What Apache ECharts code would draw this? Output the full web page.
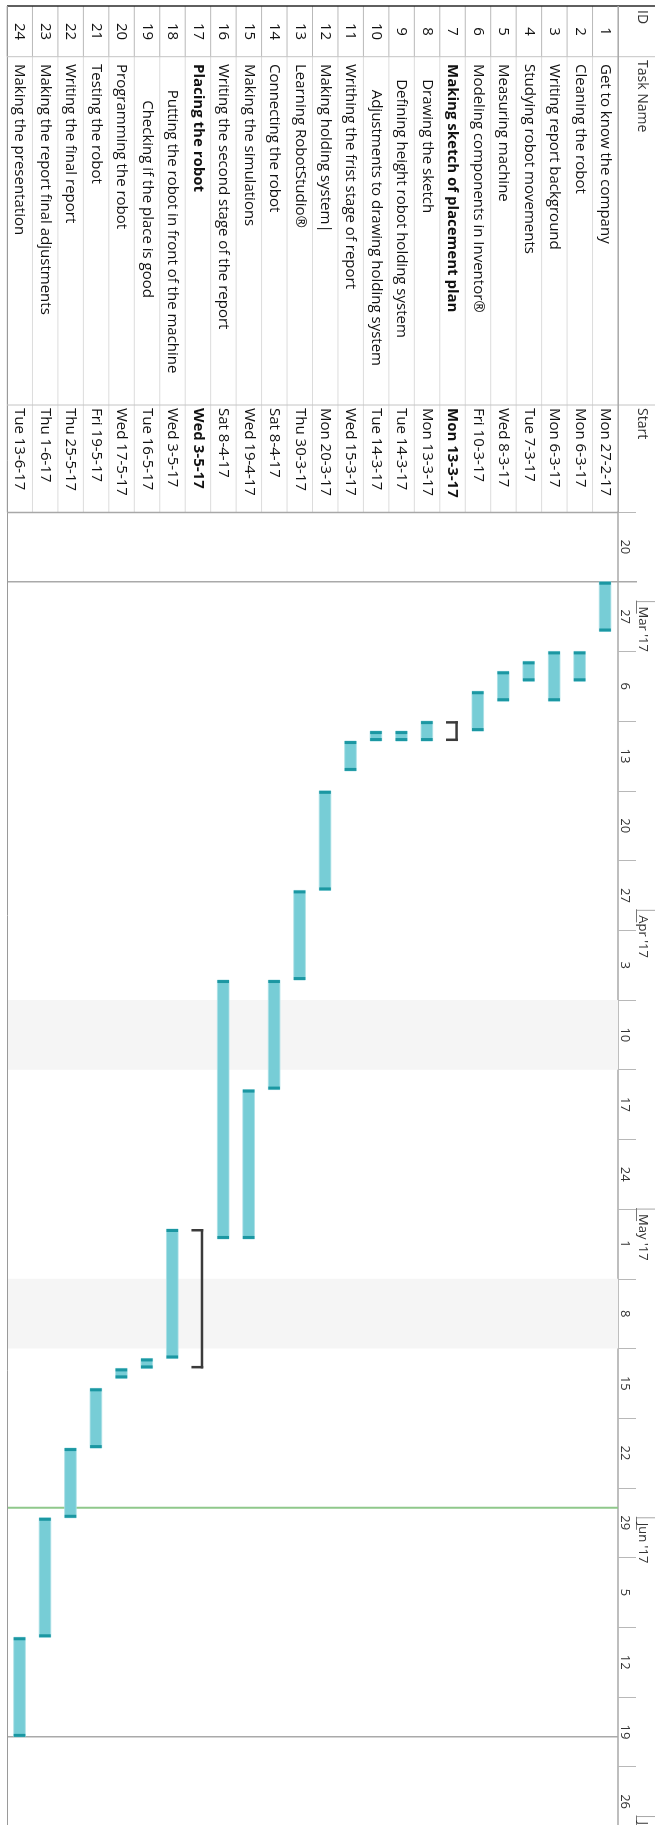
<!DOCTYPE html>
<html>
<head>
<meta charset="utf-8">
<script src="https://cdn.jsdelivr.net/npm/echarts@6/dist/echarts.min.js"></script>
<style>
  html, body { margin: 0; padding: 0; background: #fff; }
  #main { width: 655px; height: 1825px; }
</style>
</head>
<body>
<div id="main"></div>
<script>
// tasks (rows of the table, task 1 on the right because the sheet is turned)
var ids = ["1","2","3","4","5","6","7","8","9","10","11","12","13","14","15","16","17","18","19","20","21","22","23","24"];
var taskNames = [
  "Get to know the company",
  "Cleaning the robot",
  "Writing report background",
  "Studying robot movements",
  "Measuring machine",
  "Modeling components in Inventor®",
  "Making sketch of placement plan",
  "Drawing the sketch",
  "Defining height robot holding system",
  "Adjustments to drawing holding system",
  "Writhing the frist stage of report",
  "Making holding system|",
  "Learning RobotStudio®",
  "Connecting the robot",
  "Making the simulations",
  "Writing the second stage of the report",
  "Placing the robot",
  "Putting the robot in front of the machine",
  "Checking if the place is good",
  "Programming the robot",
  "Testing the robot",
  "Writing the final report",
  "Making the report final adjustments",
  "Making the presentation"
];
var startLabels = [
  "Mon 27-2-17", "Mon 6-3-17", "Mon 6-3-17", "Tue 7-3-17", "Wed 8-3-17", "Fri 10-3-17",
  "Mon 13-3-17", "Mon 13-3-17", "Tue 14-3-17", "Tue 14-3-17", "Wed 15-3-17", "Mon 20-3-17",
  "Thu 30-3-17", "Sat 8-4-17", "Wed 19-4-17", "Sat 8-4-17", "Wed 3-5-17", "Wed 3-5-17",
  "Tue 16-5-17", "Wed 17-5-17", "Fri 19-5-17", "Thu 25-5-17", "Thu 1-6-17", "Tue 13-6-17"
];
var outlineLevel = [0,0,0,0,0,0,0,1,1,2,0,0,0,0,0,0,0,2,3,0,0,0,0,0];
var isSummary   = [0,0,0,0,0,0,1,0,0,0,0,0,0,0,0,0,1,0,0,0,0,0,0,0];

// bar extents, first and last day (inclusive)
var barStart = [
  "2017-02-27","2017-03-06","2017-03-06","2017-03-07","2017-03-08","2017-03-10",
  "2017-03-13","2017-03-13","2017-03-14","2017-03-14","2017-03-15","2017-03-20",
  "2017-03-30","2017-04-08","2017-04-19","2017-04-08","2017-05-03","2017-05-03",
  "2017-05-16","2017-05-17","2017-05-19","2017-05-25","2017-06-01","2017-06-13"
];
var barFinish = [
  "2017-03-03","2017-03-08","2017-03-10","2017-03-08","2017-03-10","2017-03-13",
  "2017-03-14","2017-03-14","2017-03-14","2017-03-14","2017-03-17","2017-03-29",
  "2017-04-07","2017-04-18","2017-05-03","2017-05-03","2017-05-16","2017-05-15",
  "2017-05-16","2017-05-17","2017-05-24","2017-05-31","2017-06-12","2017-06-22"
];

// timescale
var weekStarts = [
  "2017-02-20","2017-02-27","2017-03-06","2017-03-13","2017-03-20","2017-03-27",
  "2017-04-03","2017-04-10","2017-04-17","2017-04-24","2017-05-01","2017-05-08",
  "2017-05-15","2017-05-22","2017-05-29","2017-06-05","2017-06-12","2017-06-19","2017-06-26"
];
var monthStarts = ["2017-03-01","2017-04-01","2017-05-01","2017-06-01","2017-07-01"];
var monthLabels = ["Mar '17","Apr '17","May '17","Jun '17","Jul '17"];
var nonWorkingWeeks = [["2017-04-10","2017-04-17"], ["2017-05-08","2017-05-15"]];
var projectStart = "2017-02-27";
var statusDate = "2017-05-31";
var projectFinish = "2017-06-23";

// days counted from the first shown monday
function day(s) {
  var p = s.split("-");
  return (Date.UTC(+p[0], +p[1] - 1, +p[2]) - Date.UTC(2017, 1, 20)) / 86400000;
}

var FONT = "Open Sans";
var ROT = -Math.PI / 2;   // text reads top to bottom
var TABLE_TOP = 6, COL_TASK = 56.7, COL_START = 405, TABLE_BOTTOM = 512.5;

function indent(level) {
  return level > 0 ? 4.7 + level * 10.5 : 0;
}

function vtext(x, y, str, opt) {
  opt = opt || {};
  return {
    type: "text", x: x, y: y, rotation: ROT,
    style: {
      text: str,
      font: (opt.bold ? "bold " : "") + (opt.size || 15) + "px '" + FONT + "'",
      fill: opt.color || "#111",
      align: opt.align || "left",
      verticalAlign: "middle"
    }
  };
}

var myChart = echarts.init(document.getElementById("main"), null, { renderer: "canvas" });

var barData = ids.map(function (id, i) {
  return [i, day(barStart[i]), day(barFinish[i]) + 1, isSummary[i]];
});
var tableData = ids.map(function (id, i) { return [i, 0]; });

var option = {
  animation: false,
  grid: { left: 7, right: 37, top: 512, bottom: 0 },
  xAxis: {
    type: "category", data: ids, inverse: true, show: false
  },
  yAxis: {
    type: "value", inverse: true, position: "right",
    min: 0, max: 131.85, interval: 7,
    axisLine: { show: true, lineStyle: { color: "#a8a8a8", width: 1.5 } },
    axisTick: { show: true, length: 18, lineStyle: { color: "#b8b8b8", width: 1 } },
    axisLabel: { show: false },
    splitLine: { show: false }
  },
  graphic: [
    // frame and column separators of the sheet
    { type: "line", shape: { x1: 7, y1: TABLE_TOP, x2: 655, y2: TABLE_TOP }, style: { stroke: "#2a2a2a", lineWidth: 1.5 }, z: 10 },
    { type: "line", shape: { x1: 7.5, y1: TABLE_TOP, x2: 7.5, y2: 1825 }, style: { stroke: "#9a9a9a", lineWidth: 1 }, z: 10 },
    { type: "line", shape: { x1: 7, y1: COL_TASK, x2: 655, y2: COL_TASK }, style: { stroke: "#c4c4c4", lineWidth: 1 }, z: 10 },
    { type: "line", shape: { x1: 7, y1: COL_START, x2: 655, y2: COL_START }, style: { stroke: "#c4c4c4", lineWidth: 1 }, z: 10 },
    { type: "line", shape: { x1: 7, y1: TABLE_BOTTOM, x2: 618, y2: TABLE_BOTTOM }, style: { stroke: "#a8a8a8", lineWidth: 1.5 }, z: 10 },
    { type: "line", shape: { x1: 618.2, y1: TABLE_TOP, x2: 618.2, y2: TABLE_BOTTOM }, style: { stroke: "#a8a8a8", lineWidth: 1.5 }, z: 10 },
    // headers
    Object.assign(vtext(642, 10, "ID", { size: 14, color: "#333" }), { z: 10 }),
    Object.assign(vtext(642, 60, "Task Name", { size: 14, color: "#333" }), { z: 10 }),
    Object.assign(vtext(642, 408, "Start", { size: 14, color: "#333" }), { z: 10 })
  ],
  series: [
    {
      // non working weeks
      type: "custom", name: "nonworking", z: 1, silent: true, clip: false,
      data: nonWorkingWeeks.map(function (w) { return [0, day(w[0]), day(w[1])]; }),
      renderItem: function (params, api) {
        var cs = params.coordSys;
        var y0 = api.coord([0, api.value(1)])[1];
        var y1 = api.coord([0, api.value(2)])[1];
        return { type: "rect", shape: { x: cs.x + 1, y: y0, width: cs.width - 1, height: y1 - y0 }, style: { fill: "#f5f5f5" } };
      }
    },
    {
      // project start, status date, project finish
      type: "custom", name: "lines", z: 2, silent: true, clip: false,
      data: [[0, day(projectStart), 0], [0, day(statusDate), 1], [0, day(projectFinish), 2]],
      renderItem: function (params, api) {
        var cs = params.coordSys;
        var y = api.coord([0, api.value(1)])[1];
        var k = api.value(2);
        var x2 = k === 0 ? 637 : cs.x + cs.width;
        return {
          type: "line",
          shape: { x1: cs.x, y1: y, x2: x2, y2: y },
          style: { stroke: k === 1 ? "#8fc88b" : "#a9a9a9", lineWidth: k === 1 ? 2 : 1.5 }
        };
      }
    },
    {
      // week labels and month tier
      type: "custom", name: "weeks", z: 3, silent: true, clip: false,
      data: weekStarts.map(function (d) { return [0, day(d)]; }),
      renderItem: function (params, api) {
        var d = api.value(1);
        var y0 = api.coord([0, d])[1];
        var y1 = api.coord([0, d + 7])[1];
        var dt = new Date(Date.UTC(2017, 1, 20) + d * 86400000);
        return vtext(624.5, (y0 + y1) / 2, String(dt.getUTCDate()), { size: 13, color: "#333", align: "center" });
      }
    },
    {
      type: "custom", name: "months", z: 3, silent: true, clip: false,
      data: monthStarts.map(function (d, i) { return [0, day(d), i]; }),
      renderItem: function (params, api) {
        var y = api.coord([0, api.value(1)])[1];
        return {
          type: "group",
          children: [
            { type: "line", shape: { x1: 636, y1: y, x2: 655, y2: y }, style: { stroke: "#a8a8a8", lineWidth: 1 } },
            { type: "line", shape: { x1: 636.5, y1: y - 1, x2: 636.5, y2: y + 12 }, style: { stroke: "#777", lineWidth: 1 } },
            vtext(642.5, y + 5, monthLabels[api.value(2)], { size: 13, color: "#333" })
          ]
        };
      }
    },
    {
      // the sheet part: id, name and start of every task
      type: "custom", name: "table", z: 4, silent: true, clip: false,
      data: tableData,
      renderItem: function (params, api) {
        var i = api.value(0);
        var cx = api.coord([i, 0])[0];
        var bw = api.size([1, 0])[0];
        var left = cx - bw / 2;
        var bold = isSummary[i] === 1;
        var kids = [
          { type: "line", shape: { x1: left, y1: TABLE_TOP, x2: left, y2: COL_TASK }, style: { stroke: "#b9b9b9", lineWidth: 1 } },
          { type: "line", shape: { x1: left, y1: COL_TASK, x2: left, y2: TABLE_BOTTOM }, style: { stroke: "#dcdcdc", lineWidth: 1 } },
          vtext(cx, 31.5, ids[i], { align: "center" }),
          vtext(cx, 64 + indent(outlineLevel[i]), taskNames[i], { bold: bold }),
          vtext(cx, 408, startLabels[i], { bold: bold })
        ];
        return { type: "group", children: kids };
      }
    },
    {
      // gantt bars
      type: "custom", name: "bars", z: 5, silent: true, clip: false,
      data: barData,
      encode: { x: 0, y: [1, 2] },
      renderItem: function (params, api) {
        var i = api.value(0);
        var p0 = api.coord([i, api.value(1)]);
        var p1 = api.coord([i, api.value(2)]);
        var cx = p0[0], y0 = p0[1], y1 = p1[1];
        if (api.value(3) === 1) {
          return {
            type: "group",
            children: [
              { type: "rect", shape: { x: cx + 2.8, y: y0, width: 2.5, height: y1 - y0 }, style: { fill: "#3b3b3b" } },
              { type: "rect", shape: { x: cx - 6.5, y: y0, width: 11.8, height: 2.5 }, style: { fill: "#3b3b3b" } },
              { type: "rect", shape: { x: cx - 6.5, y: y1 - 2.5, width: 11.8, height: 2.5 }, style: { fill: "#3b3b3b" } }
            ]
          };
        }
        return {
          type: "group",
          children: [
            { type: "rect", shape: { x: cx - 6, y: y0, width: 11.6, height: y1 - y0 }, style: { fill: "#77cdd6", stroke: "#a9e0e6", lineWidth: 0.8 } },
            { type: "rect", shape: { x: cx - 6, y: y0, width: 11.6, height: 3 }, style: { fill: "#1b97a2" } },
            { type: "rect", shape: { x: cx - 6, y: y1 - 3, width: 11.6, height: 3 }, style: { fill: "#1b97a2" } }
          ]
        };
      }
    }
  ]
};

myChart.setOption(option);
</script>
</body>
</html>
